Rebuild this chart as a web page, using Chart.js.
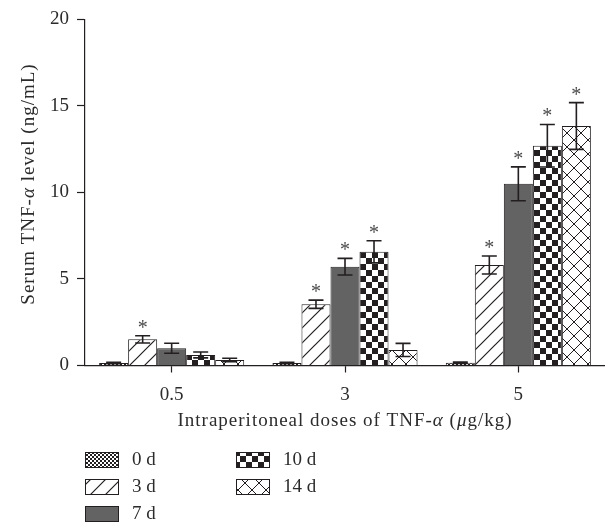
<!DOCTYPE html>
<html>
<head>
<meta charset="utf-8">
<script src="https://cdn.jsdelivr.net/npm/chart.js@4.4.1/dist/chart.umd.min.js"></script>
<style>
  html, body { margin: 0; padding: 0; background: #fff; }
</style>
</head>
<body>
<canvas id="chart" width="605" height="525"></canvas>
<script>
// ── data ──────────────────────────────────────────────────────
const doses  = ['0.5', '3', '5'];
const days   = ['0 d', '3 d', '7 d', '10 d', '14 d'];
const yTicks = [0, 5, 10, 15, 20];

const day0  = [0.15, 0.14, 0.16];
const day3  = [1.51, 3.54, 5.81];
const day7  = [1.00, 5.71, 10.5];
const day10 = [0.61, 6.57, 12.7];
const day14 = [0.32, 0.90, 13.84];

const err0  = [0.04, 0.04, 0.04];
const err3  = [0.21, 0.24, 0.52];
const err7  = [0.29, 0.48, 0.98];
const err10 = [0.17, 0.64, 1.23];
const err14 = [0.10, 0.38, 1.35];

// 1 = significant (*)
const star0  = [0, 0, 0];
const star3  = [1, 1, 1];
const star7  = [0, 1, 1];
const star10 = [0, 1, 1];
const star14 = [0, 0, 1];

const yTitle = [['Serum TNF-', false], ['α', true], [' level (ng/mL)', false]];
const xTitle = [['Intraperitoneal doses of TNF-', false], ['α', true], [' (', false], ['μ', true], ['g/kg)', false]];

const C = {
    ink:   '#231f20',
    text:  '#2b2b2b',
    gray:  '#636363',
    star:  '#4a4a4a',
};
const FONT = '"Liberation Serif", "Times New Roman", serif';

// ── fill patterns ─────────────────────────────────────────────
function tile(size, draw) {
    const c = document.createElement('canvas');
    c.width = size; c.height = size;
    const g = c.getContext('2d');
    g.fillStyle = '#fff';
    g.fillRect(0, 0, size, size);
    g.fillStyle = C.ink;
    g.strokeStyle = C.ink;
    draw(g, size);
    return g.createPattern(c, 'repeat');
}

const fills = [
    tile(4, (g) => { g.fillRect(0, 0, 2, 2); g.fillRect(2, 2, 2, 2); }),
    tile(15, (g, s) => {
        g.lineWidth = 1.2;
        g.beginPath();
        g.moveTo(-1, s + 1); g.lineTo(s + 1, -1);
        g.moveTo(-2, 2); g.lineTo(2, -2);
        g.moveTo(s - 2, s + 2); g.lineTo(s + 2, s - 2);
        g.stroke();
    }),
    C.gray,
    tile(12, (g) => { g.fillRect(0, 0, 6, 6); g.fillRect(6, 6, 6, 6); }),
    tile(14, (g, s) => {
        g.lineWidth = 1;
        g.beginPath();
        g.moveTo(0, 0); g.lineTo(s, s);
        g.moveTo(0, s); g.lineTo(s, 0);
        g.stroke();
    }),
];

const values = [day0, day3, day7, day10, day14];
const errs   = [err0, err3, err7, err10, err14];
const stars  = [star0, star3, star7, star10, star14];

// ── helpers ───────────────────────────────────────────────────
function richText(ctx, parts, x, y, size) {
    const fontOf = it => (it ? 'italic ' : '') + size + 'px ' + FONT;
    ctx.letterSpacing = '1px';
    let total = 0;
    const w = parts.map(([t, it]) => {
        ctx.font = fontOf(it);
        const m = ctx.measureText(t).width;
        total += m;
        return m;
    });
    let cx = x - total / 2;
    ctx.textAlign = 'left';
    ctx.textBaseline = 'middle';
    parts.forEach(([t, it], i) => {
        ctx.font = fontOf(it);
        ctx.fillText(t, cx, y);
        cx += w[i];
    });
    ctx.letterSpacing = '0px';
}

// error bars + asterisks
const errorBars = {
    id: 'errorBars',
    afterDatasetsDraw(chart) {
        const ctx = chart.ctx;
        const y = chart.scales.y;
        ctx.save();
        chart.data.datasets.forEach((ds, i) => {
            chart.getDatasetMeta(i).data.forEach((bar, j) => {
                const v = ds.data[j], e = ds.errs[j];
                const top = y.getPixelForValue(v + e);
                const bot = y.getPixelForValue(v - e);
                ctx.strokeStyle = C.ink;
                ctx.lineWidth = 1.6;
                ctx.beginPath();
                ctx.moveTo(bar.x, top); ctx.lineTo(bar.x, bot);
                ctx.moveTo(bar.x - 7.5, top); ctx.lineTo(bar.x + 7.5, top);
                ctx.moveTo(bar.x - 7.5, bot); ctx.lineTo(bar.x + 7.5, bot);
                ctx.stroke();
                if (ds.stars[j]) {
                    ctx.fillStyle = C.star;
                    ctx.font = '20px ' + FONT;
                    ctx.textAlign = 'center';
                    ctx.textBaseline = 'alphabetic';
                    ctx.fillText('*', bar.x, top - 2);
                }
            });
        });
        ctx.restore();
    }
};

// axis titles with italic greek + the two-column legend
const decorations = {
    id: 'decorations',
    afterDraw(chart) {
        const ctx = chart.ctx;
        const a = chart.chartArea;
        ctx.save();
        ctx.fillStyle = C.text;
        richText(ctx, xTitle, (a.left + a.right) / 2, 421, 19);
        ctx.translate(29, 184);
        ctx.rotate(-Math.PI / 2);
        richText(ctx, yTitle, 0, 0, 19);
        ctx.restore();

        ctx.save();
        const cols = [85, 236];
        const rows = [460, 487, 514];
        days.forEach((d, i) => {
            const x = cols[Math.floor(i / 3)];
            const yc = rows[i % 3];
            ctx.fillStyle = fills[i];
            ctx.fillRect(x, yc - 8, 34, 16);
            ctx.strokeStyle = C.ink;
            ctx.lineWidth = 1;
            ctx.strokeRect(x + 0.5, yc - 7.5, 33, 15);
            ctx.fillStyle = C.text;
            ctx.font = '19px ' + FONT;
            ctx.textAlign = 'left';
            ctx.textBaseline = 'middle';
            ctx.fillText(d, x + 47, yc);
        });
        ctx.restore();
    }
};

// ── chart ─────────────────────────────────────────────────────
new Chart(document.getElementById('chart'), {
    type: 'bar',
    data: {
        labels: doses,
        datasets: days.map((d, i) => ({
            label: d,
            data: values[i],
            errs: errs[i],
            stars: stars[i],
            backgroundColor: fills[i],
            borderColor: C.ink,
            borderWidth: 1,
            borderSkipped: 'bottom',
            categoryPercentage: 0.837,
            barPercentage: 1,
        })),
    },
    options: {
        responsive: false,
        animation: false,
        events: [],
        layout: { padding: { top: 19, right: 0, bottom: 119.5, left: 0 } },
        plugins: { legend: { display: false }, tooltip: { enabled: false } },
        scales: {
            x: {
                grid: { offset: false, drawOnChartArea: false, drawTicks: true,
                        tickLength: 7, tickColor: C.ink, tickWidth: 1.2 },
                border: { color: C.ink, width: 1.2 },
                ticks: { color: C.text, font: { family: FONT, size: 19 }, padding: 11 },
                afterFit: s => { s.height = 40; },
            },
            y: {
                min: 0, max: 20,
                afterBuildTicks: s => { s.ticks = yTicks.map(v => ({ value: v })); },
                grid: { drawOnChartArea: false, drawTicks: true,
                        tickLength: 8, tickColor: C.ink, tickWidth: 1.2 },
                border: { color: C.ink, width: 1.2 },
                ticks: { color: C.text, font: { family: FONT, size: 19 }, padding: 8 },
                afterFit: s => { s.width = 85; },
            },
        },
    },
    plugins: [errorBars, decorations],
});
</script>
</body>
</html>
